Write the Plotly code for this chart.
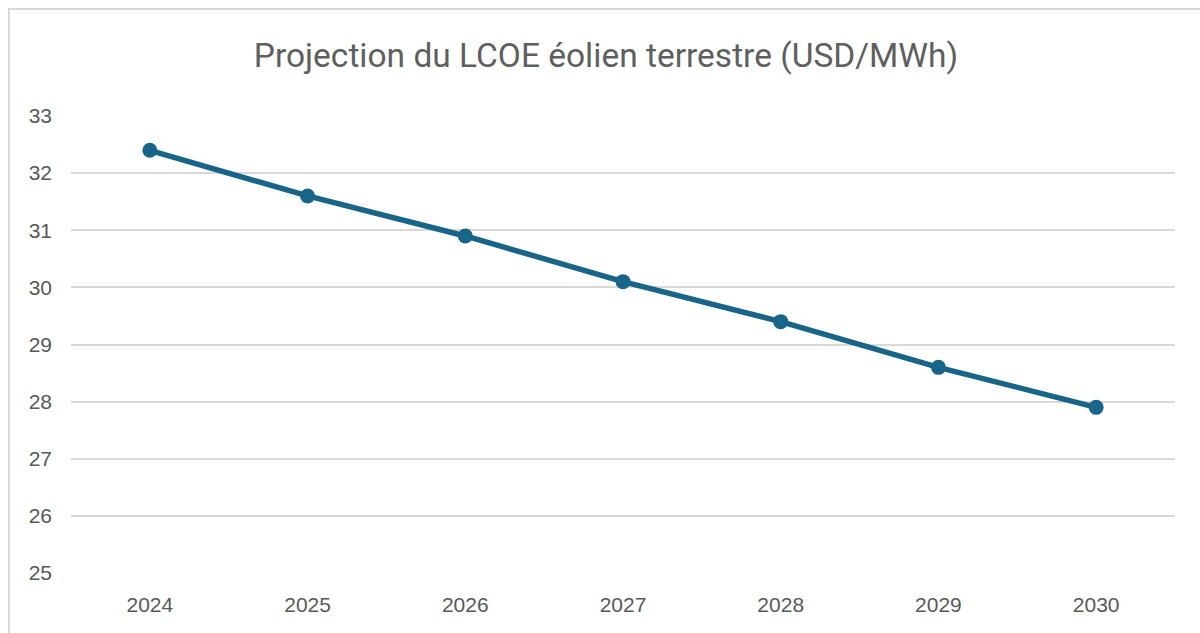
import plotly.graph_objects as go

years = ["2024", "2025", "2026", "2027", "2028", "2029", "2030"]
lcoe = [32.4, 31.6, 30.9, 30.1, 29.4, 28.6, 27.9]
title_text = "Projection du LCOE éolien terrestre (USD/MWh)"
y_ticks = [25, 26, 27, 28, 29, 30, 31, 32, 33]

W, H = 1200, 633
ml, mr, mt, mb = 71, 25, 116, 60
pw, ph = W - ml - mr, H - mt - mb

def px_x(x):
    return (x - ml) / pw

def px_y(y):
    return 1 - (y - mt) / ph

fig = go.Figure()
fig.add_trace(go.Scatter(
    x=years, y=lcoe, mode="lines+markers",
    line=dict(color="#196589", width=5.5),
    marker=dict(color="#196589", size=15),
    showlegend=False, hoverinfo="x+y",
))

fig.update_layout(
    width=W, height=H,
    margin=dict(l=ml, r=mr, t=mt, b=mb),
    paper_bgcolor="white", plot_bgcolor="white",
    title=dict(text=title_text, x=606 / W, xanchor="center", y=1 - 55 / H, yanchor="middle",
               font=dict(family="Roboto", size=33.5, color="#5f5f5f")),
    xaxis=dict(type="category", range=[-0.5, 6.5], showgrid=False, zeroline=False,
               showline=False, ticks="", tickfont=dict(family="Liberation Sans", size=21, color="#595959"),
               ticklabelstandoff=17),
    yaxis=dict(range=[25, 33], tickvals=y_ticks, showgrid=True, gridcolor="#D9D9D9", gridwidth=1.8,
               zeroline=False, showline=False, ticks="",
               tickfont=dict(family="Liberation Sans", size=21, color="#595959"),
               ticklabelstandoff=18),
    shapes=[
        dict(type="line", xref="paper", yref="paper", x0=px_x(8), x1=px_x(1200), y0=px_y(9), y1=px_y(9),
             line=dict(color="#D9D9D9", width=2)),
        dict(type="line", xref="paper", yref="paper", x0=px_x(9), x1=px_x(9), y0=px_y(8), y1=px_y(633),
             line=dict(color="#D9D9D9", width=2)),
    ],
)

fig.write_html(
    "out.html",
    config={"displayModeBar": False},
    post_script="document.body.style.margin='0';document.body.style.overflow='hidden';",
)
